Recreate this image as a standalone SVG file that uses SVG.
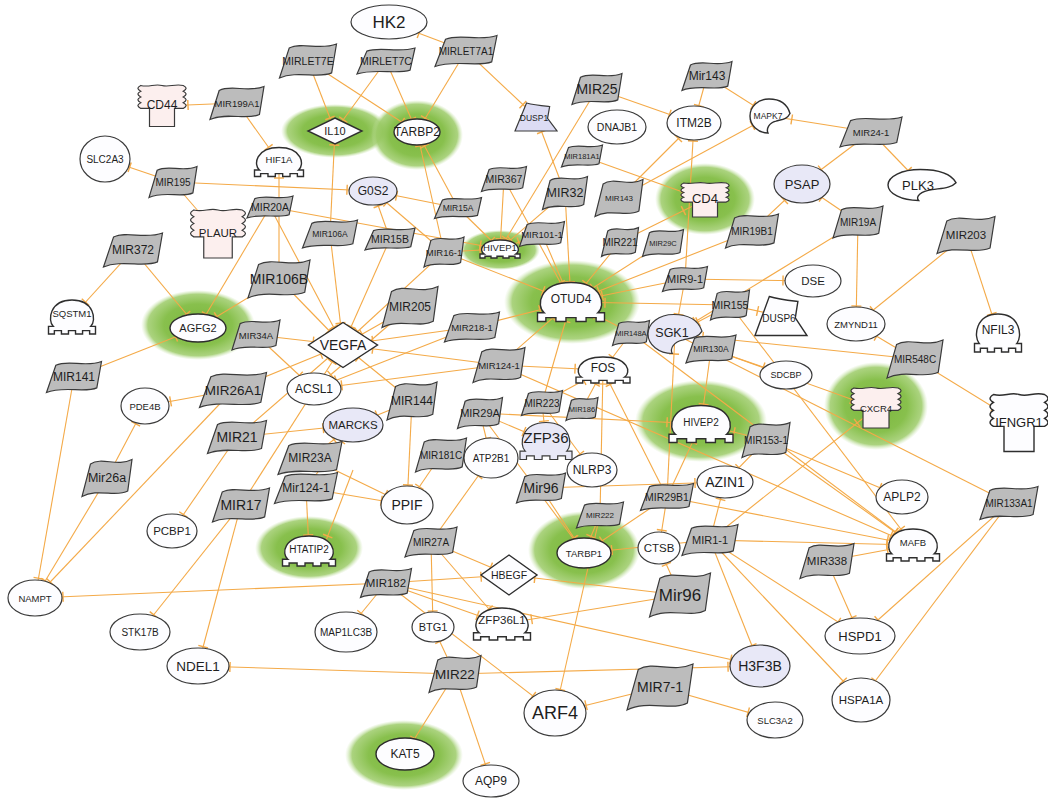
<svg xmlns="http://www.w3.org/2000/svg" xmlns:xlink="http://www.w3.org/1999/xlink" width="1048" height="799" viewBox="0 0 1048 799">
<defs>
<style>
.e line{stroke:#f4aa48;stroke-width:1.1;fill:none}
.m{fill:#bcbcbc;stroke:#3a3a3a;stroke-width:1.2}
.el{fill:#fdfdff;stroke:#3a3a3a;stroke-width:1.2}
.lv{fill:#e8e8f7;stroke:#3a3a3a;stroke-width:1.2}
.pk{fill:#fcefee;stroke:#3a3a3a;stroke-width:1.2}
.w{fill:#fdfdff;stroke:#2e2e2e;stroke-width:1.4}
.t{font-family:"Liberation Sans",Arial,sans-serif;text-anchor:middle;dominant-baseline:central;fill:#1e1e1e}
.h{fill:url(#halo)}
</style>
<radialGradient id="halo"><stop offset="0" stop-color="#7ab63c"/><stop offset="0.6" stop-color="#88c04d"/><stop offset="0.88" stop-color="#9ccb68" stop-opacity="0.85"/><stop offset="1" stop-color="#c4e2a4" stop-opacity="0"/></radialGradient>
<path id="flag" vector-effect="non-scaling-stroke" d="M-0.66,-0.76 C-0.2,-1.15 0.4,-0.6 1,-1 L0.83,0.7 C0.4,1.05 -0.4,0.55 -1,1 Z"/>
<path id="tf" vector-effect="non-scaling-stroke" d="M-0.8,0.55 C-1.05,0.2 -0.95,-1 0,-1 C0.95,-1 1.05,0.2 0.8,0.55 L1,0.55 L1,1 L0.75,1 L0.75,0.8 L0.45,0.8 L0.45,1 L0.15,1 L0.15,0.8 L-0.15,0.8 L-0.15,1 L-0.45,1 L-0.45,0.8 L-0.75,0.8 L-0.75,1 L-1,1 L-1,0.55 Z"/>
<path id="rec" vector-effect="non-scaling-stroke" d="M-0.85,-1 C-0.5,-0.9 -0.3,-1.1 0,-1 C0.3,-0.9 0.5,-1.1 0.85,-1 Q1.08,-0.86 0.85,-0.72 Q1.08,-0.58 0.85,-0.44 Q1.08,-0.3 0.85,-0.16 Q1.08,-0.02 0.85,0.12 L0.5,0.12 L0.5,1 L-0.5,1 L-0.5,0.12 L-0.85,0.12 Q-1.08,-0.02 -0.85,-0.16 Q-1.08,-0.3 -0.85,-0.44 Q-1.08,-0.58 -0.85,-0.72 Q-1.08,-0.86 -0.85,-1 Z"/>
<path id="kin" vector-effect="non-scaling-stroke" d="M1,-0.15 C0.85,-0.75 0.45,-1 -0.05,-1 C-0.6,-1 -1,-0.55 -1,0 C-1,0.55 -0.6,1 -0.1,1 C-0.2,0.75 -0.05,0.4 0.3,0.3 C0.6,0.2 0.85,0.2 1,-0.15 Z"/>
<path id="dia" vector-effect="non-scaling-stroke" d="M0,-1 L1,0 L0,1 L-1,0 Z"/>
<path id="phos" vector-effect="non-scaling-stroke" d="M-1,1 L-0.45,-1 C-0.1,-0.85 0.3,-0.8 0.65,-0.75 L0.55,0.1 L1,1 Z"/>
<marker id="t10" markerUnits="userSpaceOnUse" orient="auto" overflow="visible" markerWidth="1" markerHeight="1"><path d="M-10,-5V5" stroke="#f4aa48" stroke-width="1.4"/></marker>
<marker id="t12" markerUnits="userSpaceOnUse" orient="auto" overflow="visible" markerWidth="1" markerHeight="1"><path d="M-12,-5V5" stroke="#f4aa48" stroke-width="1.4"/></marker>
<marker id="t14" markerUnits="userSpaceOnUse" orient="auto" overflow="visible" markerWidth="1" markerHeight="1"><path d="M-14,-5V5" stroke="#f4aa48" stroke-width="1.4"/></marker>
<marker id="t16" markerUnits="userSpaceOnUse" orient="auto" overflow="visible" markerWidth="1" markerHeight="1"><path d="M-16,-5V5" stroke="#f4aa48" stroke-width="1.4"/></marker>
<marker id="t18" markerUnits="userSpaceOnUse" orient="auto" overflow="visible" markerWidth="1" markerHeight="1"><path d="M-18,-5V5" stroke="#f4aa48" stroke-width="1.4"/></marker>
<marker id="t20" markerUnits="userSpaceOnUse" orient="auto" overflow="visible" markerWidth="1" markerHeight="1"><path d="M-20,-5V5" stroke="#f4aa48" stroke-width="1.4"/></marker>
<marker id="t22" markerUnits="userSpaceOnUse" orient="auto" overflow="visible" markerWidth="1" markerHeight="1"><path d="M-22,-5V5" stroke="#f4aa48" stroke-width="1.4"/></marker>
<marker id="t24" markerUnits="userSpaceOnUse" orient="auto" overflow="visible" markerWidth="1" markerHeight="1"><path d="M-24,-5V5" stroke="#f4aa48" stroke-width="1.4"/></marker>
<marker id="t26" markerUnits="userSpaceOnUse" orient="auto" overflow="visible" markerWidth="1" markerHeight="1"><path d="M-26,-5V5" stroke="#f4aa48" stroke-width="1.4"/></marker>
<marker id="t28" markerUnits="userSpaceOnUse" orient="auto" overflow="visible" markerWidth="1" markerHeight="1"><path d="M-28,-5V5" stroke="#f4aa48" stroke-width="1.4"/></marker>
<marker id="t30" markerUnits="userSpaceOnUse" orient="auto" overflow="visible" markerWidth="1" markerHeight="1"><path d="M-30,-5V5" stroke="#f4aa48" stroke-width="1.4"/></marker>
<marker id="t32" markerUnits="userSpaceOnUse" orient="auto" overflow="visible" markerWidth="1" markerHeight="1"><path d="M-32,-5V5" stroke="#f4aa48" stroke-width="1.4"/></marker>
<marker id="t34" markerUnits="userSpaceOnUse" orient="auto" overflow="visible" markerWidth="1" markerHeight="1"><path d="M-34,-5V5" stroke="#f4aa48" stroke-width="1.4"/></marker>
</defs>
<rect width="1048" height="799" fill="#ffffff"/>
<g id="halos">
<ellipse class="h" cx="335" cy="131" rx="54" ry="27"/>
<ellipse class="h" cx="417" cy="135" rx="46" ry="35"/>
<ellipse class="h" cx="500" cy="250" rx="40" ry="20"/>
<ellipse class="h" cx="572" cy="302" rx="68" ry="42"/>
<ellipse class="h" cx="705" cy="199" rx="50" ry="36"/>
<ellipse class="h" cx="198" cy="325" rx="57" ry="35"/>
<ellipse class="h" cx="701" cy="421" rx="66" ry="41"/>
<ellipse class="h" cx="876" cy="406" rx="52" ry="44"/>
<ellipse class="h" cx="309" cy="548" rx="54" ry="32"/>
<ellipse class="h" cx="584" cy="550" rx="56" ry="39"/>
<ellipse class="h" cx="404" cy="755" rx="59" ry="35"/>
</g>
<g id="connectors" class="e">
<line x1="466" y1="51" x2="389" y2="22" marker-end="url(#t32)"/>
<line x1="466" y1="51" x2="536" y2="117" marker-end="url(#t18)"/>
<line x1="466" y1="51" x2="417" y2="132" marker-end="url(#t16)"/>
<line x1="308" y1="61" x2="335" y2="131" marker-end="url(#t14)"/>
<line x1="308" y1="61" x2="417" y2="132" marker-end="url(#t18)"/>
<line x1="386" y1="61" x2="335" y2="131" marker-end="url(#t14)"/>
<line x1="386" y1="61" x2="417" y2="132" marker-end="url(#t14)"/>
<line x1="237" y1="103" x2="162" y2="106" marker-end="url(#t26)"/>
<line x1="237" y1="103" x2="279" y2="162" marker-end="url(#t18)"/>
<line x1="173" y1="182" x2="105" y2="159" marker-end="url(#t26)"/>
<line x1="173" y1="182" x2="218" y2="234" marker-end="url(#t26)"/>
<line x1="173" y1="182" x2="373" y2="191" marker-end="url(#t26)"/>
<line x1="133" y1="250" x2="72" y2="317" marker-end="url(#t20)"/>
<line x1="133" y1="250" x2="198" y2="328" marker-end="url(#t18)"/>
<line x1="270" y1="207" x2="198" y2="328" marker-end="url(#t16)"/>
<line x1="279" y1="279" x2="198" y2="328" marker-end="url(#t22)"/>
<line x1="74" y1="377" x2="198" y2="328" marker-end="url(#t24)"/>
<line x1="330" y1="234" x2="335" y2="131" marker-end="url(#t14)"/>
<line x1="458" y1="208" x2="417" y2="132" marker-end="url(#t16)"/>
<line x1="444" y1="252" x2="417" y2="132" marker-end="url(#t14)"/>
<line x1="458" y1="208" x2="373" y2="191" marker-end="url(#t24)"/>
<line x1="444" y1="252" x2="373" y2="191" marker-end="url(#t18)"/>
<line x1="390" y1="239" x2="373" y2="191" marker-end="url(#t16)"/>
<line x1="270" y1="207" x2="500" y2="249" marker-end="url(#t20)"/>
<line x1="504" y1="179" x2="500" y2="249" marker-end="url(#t10)"/>
<line x1="458" y1="208" x2="500" y2="249" marker-end="url(#t12)"/>
<line x1="444" y1="252" x2="500" y2="249" marker-end="url(#t20)"/>
<line x1="597" y1="89" x2="694" y2="123" marker-end="url(#t26)"/>
<line x1="565" y1="193" x2="536" y2="117" marker-end="url(#t16)"/>
<line x1="707" y1="76" x2="694" y2="123" marker-end="url(#t18)"/>
<line x1="707" y1="76" x2="770" y2="116" marker-end="url(#t20)"/>
<line x1="871" y1="132" x2="770" y2="116" marker-end="url(#t22)"/>
<line x1="619" y1="198" x2="770" y2="116" marker-end="url(#t20)"/>
<line x1="619" y1="198" x2="694" y2="123" marker-end="url(#t22)"/>
<line x1="685" y1="279" x2="694" y2="123" marker-end="url(#t18)"/>
<line x1="582" y1="156" x2="705" y2="200" marker-end="url(#t24)"/>
<line x1="620" y1="242" x2="705" y2="200" marker-end="url(#t24)"/>
<line x1="752" y1="231" x2="802" y2="184" marker-end="url(#t24)"/>
<line x1="858" y1="222" x2="802" y2="184" marker-end="url(#t24)"/>
<line x1="871" y1="132" x2="802" y2="184" marker-end="url(#t24)"/>
<line x1="871" y1="132" x2="922" y2="185" marker-end="url(#t20)"/>
<line x1="858" y1="222" x2="856" y2="324" marker-end="url(#t18)"/>
<line x1="966" y1="235" x2="856" y2="324" marker-end="url(#t22)"/>
<line x1="966" y1="235" x2="998" y2="333" marker-end="url(#t20)"/>
<line x1="685" y1="279" x2="813" y2="281" marker-end="url(#t30)"/>
<line x1="915" y1="359" x2="675" y2="334" marker-end="url(#t28)"/>
<line x1="711" y1="349" x2="876" y2="408" marker-end="url(#t26)"/>
<line x1="710" y1="540" x2="876" y2="408" marker-end="url(#t24)"/>
<line x1="915" y1="359" x2="1019" y2="423" marker-end="url(#t30)"/>
<line x1="1009" y1="503" x2="675" y2="334" marker-end="url(#t26)"/>
<line x1="711" y1="349" x2="786" y2="375" marker-end="url(#t24)"/>
<line x1="766" y1="440" x2="913" y2="545" marker-end="url(#t22)"/>
<line x1="667" y1="497" x2="913" y2="545" marker-end="url(#t26)"/>
<line x1="710" y1="540" x2="913" y2="545" marker-end="url(#t26)"/>
<line x1="827" y1="561" x2="913" y2="545" marker-end="url(#t26)"/>
<line x1="766" y1="440" x2="902" y2="497" marker-end="url(#t24)"/>
<line x1="827" y1="561" x2="860" y2="636" marker-end="url(#t20)"/>
<line x1="1009" y1="503" x2="860" y2="636" marker-end="url(#t24)"/>
<line x1="710" y1="540" x2="860" y2="636" marker-end="url(#t26)"/>
<line x1="1009" y1="503" x2="861" y2="700" marker-end="url(#t24)"/>
<line x1="710" y1="540" x2="861" y2="700" marker-end="url(#t26)"/>
<line x1="710" y1="540" x2="760" y2="666" marker-end="url(#t22)"/>
<line x1="455" y1="674" x2="760" y2="666" marker-end="url(#t32)"/>
<line x1="386" y1="583" x2="760" y2="666" marker-end="url(#t30)"/>
<line x1="660" y1="687" x2="775" y2="720" marker-end="url(#t28)"/>
<line x1="660" y1="687" x2="555" y2="713" marker-end="url(#t32)"/>
<line x1="600" y1="515" x2="555" y2="713" marker-end="url(#t24)"/>
<line x1="386" y1="583" x2="555" y2="713" marker-end="url(#t28)"/>
<line x1="680" y1="595" x2="659" y2="548" marker-end="url(#t18)"/>
<line x1="680" y1="595" x2="502" y2="624" marker-end="url(#t30)"/>
<line x1="680" y1="595" x2="509" y2="575" marker-end="url(#t26)"/>
<line x1="386" y1="583" x2="35" y2="598" marker-end="url(#t28)"/>
<line x1="386" y1="583" x2="346" y2="632" marker-end="url(#t24)"/>
<line x1="431" y1="542" x2="433" y2="627" marker-end="url(#t16)"/>
<line x1="386" y1="583" x2="502" y2="624" marker-end="url(#t26)"/>
<line x1="386" y1="583" x2="509" y2="575" marker-end="url(#t28)"/>
<line x1="431" y1="542" x2="509" y2="575" marker-end="url(#t20)"/>
<line x1="455" y1="674" x2="405" y2="754" marker-end="url(#t18)"/>
<line x1="455" y1="674" x2="491" y2="781" marker-end="url(#t18)"/>
<line x1="455" y1="674" x2="198" y2="666" marker-end="url(#t32)"/>
<line x1="455" y1="674" x2="433" y2="627" marker-end="url(#t16)"/>
<line x1="74" y1="377" x2="35" y2="598" marker-end="url(#t20)"/>
<line x1="107" y1="478" x2="35" y2="598" marker-end="url(#t20)"/>
<line x1="233" y1="390" x2="35" y2="598" marker-end="url(#t22)"/>
<line x1="237" y1="437" x2="172" y2="531" marker-end="url(#t20)"/>
<line x1="241" y1="505" x2="140" y2="632" marker-end="url(#t22)"/>
<line x1="241" y1="505" x2="198" y2="666" marker-end="url(#t20)"/>
<line x1="107" y1="478" x2="145" y2="406" marker-end="url(#t20)"/>
<line x1="233" y1="390" x2="145" y2="406" marker-end="url(#t26)"/>
<line x1="306" y1="488" x2="309" y2="551" marker-end="url(#t16)"/>
<line x1="353" y1="470" x2="322" y2="551" marker-end="url(#t16)"/>
<line x1="256" y1="335" x2="343" y2="345" marker-end="url(#t30)"/>
<line x1="279" y1="279" x2="343" y2="345" marker-end="url(#t20)"/>
<line x1="410" y1="307" x2="343" y2="345" marker-end="url(#t22)"/>
<line x1="472" y1="327" x2="343" y2="345" marker-end="url(#t30)"/>
<line x1="499" y1="365" x2="343" y2="345" marker-end="url(#t30)"/>
<line x1="270" y1="207" x2="343" y2="345" marker-end="url(#t20)"/>
<line x1="330" y1="234" x2="343" y2="345" marker-end="url(#t22)"/>
<line x1="390" y1="239" x2="343" y2="345" marker-end="url(#t20)"/>
<line x1="444" y1="252" x2="343" y2="345" marker-end="url(#t20)"/>
<line x1="233" y1="390" x2="343" y2="345" marker-end="url(#t24)"/>
<line x1="542" y1="234" x2="571" y2="302" marker-end="url(#t20)"/>
<line x1="565" y1="193" x2="571" y2="302" marker-end="url(#t20)"/>
<line x1="504" y1="179" x2="571" y2="302" marker-end="url(#t22)"/>
<line x1="620" y1="242" x2="571" y2="302" marker-end="url(#t24)"/>
<line x1="663" y1="243" x2="571" y2="302" marker-end="url(#t26)"/>
<line x1="685" y1="279" x2="571" y2="302" marker-end="url(#t32)"/>
<line x1="444" y1="252" x2="571" y2="302" marker-end="url(#t30)"/>
<line x1="472" y1="327" x2="571" y2="302" marker-end="url(#t32)"/>
<line x1="631" y1="333" x2="571" y2="302" marker-end="url(#t28)"/>
<line x1="730" y1="305" x2="571" y2="302" marker-end="url(#t34)"/>
<line x1="752" y1="231" x2="571" y2="302" marker-end="url(#t30)"/>
<line x1="499" y1="365" x2="571" y2="302" marker-end="url(#t24)"/>
<line x1="542" y1="403" x2="571" y2="302" marker-end="url(#t20)"/>
<line x1="597" y1="89" x2="500" y2="249" marker-end="url(#t12)"/>
<line x1="685" y1="279" x2="675" y2="334" marker-end="url(#t20)"/>
<line x1="730" y1="305" x2="675" y2="334" marker-end="url(#t26)"/>
<line x1="858" y1="222" x2="675" y2="334" marker-end="url(#t24)"/>
<line x1="711" y1="349" x2="701" y2="424" marker-end="url(#t20)"/>
<line x1="667" y1="497" x2="675" y2="334" marker-end="url(#t20)"/>
<line x1="631" y1="333" x2="603" y2="370" marker-end="url(#t16)"/>
<line x1="499" y1="365" x2="603" y2="370" marker-end="url(#t28)"/>
<line x1="542" y1="403" x2="603" y2="370" marker-end="url(#t22)"/>
<line x1="582" y1="409" x2="603" y2="370" marker-end="url(#t16)"/>
<line x1="600" y1="515" x2="603" y2="370" marker-end="url(#t14)"/>
<line x1="667" y1="497" x2="603" y2="370" marker-end="url(#t16)"/>
<line x1="480" y1="413" x2="546" y2="441" marker-end="url(#t24)"/>
<line x1="542" y1="403" x2="546" y2="441" marker-end="url(#t20)"/>
<line x1="667" y1="497" x2="701" y2="424" marker-end="url(#t20)"/>
<line x1="766" y1="440" x2="701" y2="424" marker-end="url(#t34)"/>
<line x1="480" y1="413" x2="701" y2="424" marker-end="url(#t34)"/>
<line x1="710" y1="540" x2="725" y2="482" marker-end="url(#t18)"/>
<line x1="766" y1="440" x2="725" y2="482" marker-end="url(#t20)"/>
<line x1="667" y1="497" x2="584" y2="553" marker-end="url(#t22)"/>
<line x1="600" y1="515" x2="584" y2="553" marker-end="url(#t18)"/>
<line x1="541" y1="488" x2="584" y2="553" marker-end="url(#t18)"/>
<line x1="710" y1="540" x2="584" y2="553" marker-end="url(#t28)"/>
<line x1="480" y1="413" x2="584" y2="553" marker-end="url(#t18)"/>
<line x1="412" y1="401" x2="353" y2="425" marker-end="url(#t26)"/>
<line x1="310" y1="458" x2="353" y2="425" marker-end="url(#t24)"/>
<line x1="306" y1="488" x2="353" y2="425" marker-end="url(#t20)"/>
<line x1="237" y1="437" x2="353" y2="425" marker-end="url(#t30)"/>
<line x1="306" y1="488" x2="407" y2="505" marker-end="url(#t26)"/>
<line x1="441" y1="455" x2="407" y2="505" marker-end="url(#t22)"/>
<line x1="310" y1="458" x2="407" y2="505" marker-end="url(#t24)"/>
<line x1="412" y1="401" x2="407" y2="505" marker-end="url(#t20)"/>
<line x1="256" y1="335" x2="314" y2="389" marker-end="url(#t20)"/>
<line x1="410" y1="307" x2="314" y2="389" marker-end="url(#t22)"/>
<line x1="472" y1="327" x2="314" y2="389" marker-end="url(#t24)"/>
<line x1="499" y1="365" x2="314" y2="389" marker-end="url(#t28)"/>
<line x1="441" y1="455" x2="491" y2="458" marker-end="url(#t28)"/>
<line x1="480" y1="413" x2="491" y2="458" marker-end="url(#t20)"/>
<line x1="431" y1="542" x2="491" y2="458" marker-end="url(#t22)"/>
<line x1="431" y1="542" x2="502" y2="624" marker-end="url(#t20)"/>
<line x1="667" y1="497" x2="659" y2="548" marker-end="url(#t18)"/>
<line x1="279" y1="279" x2="279" y2="162" marker-end="url(#t16)"/>
<line x1="241" y1="505" x2="343" y2="345" marker-end="url(#t20)"/>
<line x1="237" y1="437" x2="343" y2="345" marker-end="url(#t20)"/>
<line x1="412" y1="401" x2="343" y2="345" marker-end="url(#t20)"/>
<line x1="542" y1="234" x2="500" y2="249" marker-end="url(#t20)"/>
<line x1="565" y1="193" x2="500" y2="249" marker-end="url(#t14)"/>
<line x1="915" y1="359" x2="856" y2="324" marker-end="url(#t24)"/>
<line x1="542" y1="403" x2="592" y2="470" marker-end="url(#t20)"/>
<line x1="541" y1="488" x2="725" y2="482" marker-end="url(#t30)"/>
<line x1="631" y1="333" x2="913" y2="545" marker-end="url(#t22)"/>
<line x1="499" y1="365" x2="913" y2="545" marker-end="url(#t24)"/>
<line x1="730" y1="305" x2="913" y2="545" marker-end="url(#t20)"/>
<line x1="730" y1="305" x2="781" y2="316" marker-end="url(#t24)"/>
</g>
<g id="nodes">
<g id="n-HK2"><ellipse class="el" cx="389" cy="22" rx="38" ry="17"/><text class="t" x="389" y="22" font-size="17">HK2</text></g>
<g id="n-MIRLET7E"><use href="#flag" class="m" transform="translate(308,61) scale(28.5,17)"/><text class="t" x="308" y="61" font-size="10.5">MIRLET7E</text></g>
<g id="n-MIRLET7C"><use href="#flag" class="m" transform="translate(386,61) scale(29,13)"/><text class="t" x="386" y="61" font-size="10.5">MIRLET7C</text></g>
<g id="n-MIRLET7A1"><use href="#flag" class="m" transform="translate(466,51) scale(31,15.5)"/><text class="t" x="466" y="51" font-size="10">MIRLET7A1</text></g>
<g id="n-IL10"><use href="#dia" class="w" transform="translate(335,131) scale(27,13)"/><text class="t" x="335" y="131" font-size="11">IL10</text></g>
<g id="n-TARBP2"><ellipse class="w" cx="417" cy="132" rx="23" ry="13"/><text class="t" x="417" y="132" font-size="12">TARBP2</text></g>
<g id="n-DUSP1"><use href="#phos" fill="#dcdcf3" stroke="#3a3a3a" stroke-width="1.2" transform="translate(536,117) scale(21,14)"/><text class="t" x="534" y="118" font-size="8.5">DUSP1</text></g>
<g id="n-CD44"><use href="#rec" class="pk" transform="translate(162,106) scale(25,20.5)"/><text class="t" x="162" y="105" font-size="12">CD44</text></g>
<g id="n-MIR199A1"><use href="#flag" class="m" transform="translate(237,103) scale(27,16.5)"/><text class="t" x="237" y="103" font-size="9.5">MIR199A1</text></g>
<g id="n-SLC2A3"><ellipse class="el" cx="105" cy="159" rx="25" ry="23" fill="#f6f6fc"/><text class="t" x="105" y="159" font-size="10">SLC2A3</text></g>
<g id="n-HIF1A"><use href="#tf" class="w" transform="translate(279,162) scale(24.5,14.5)"/><text class="t" x="279" y="159" font-size="9.5">HIF1A</text></g>
<g id="n-MIR195"><use href="#flag" class="m" transform="translate(173,182) scale(24,15.5)"/><text class="t" x="173" y="182" font-size="10">MIR195</text></g>
<g id="n-G0S2"><ellipse class="lv" cx="373" cy="191" rx="24" ry="14"/><text class="t" x="373" y="191" font-size="12">G0S2</text></g>
<g id="n-PLAUR"><use href="#rec" class="pk" transform="translate(218,234) scale(28.5,24)"/><text class="t" x="218" y="233" font-size="11.5">PLAUR</text></g>
<g id="n-MIR20A"><use href="#flag" class="m" transform="translate(270,207) scale(23,11)"/><text class="t" x="270" y="207" font-size="10.5">MIR20A</text></g>
<g id="n-MIR372"><use href="#flag" class="m" transform="translate(133,250) scale(29.5,17)"/><text class="t" x="133" y="250" font-size="12">MIR372</text></g>
<g id="n-MIR15A"><use href="#flag" class="m" transform="translate(458,208) scale(23.5,10.5)"/><text class="t" x="458" y="208" font-size="8.5">MIR15A</text></g>
<g id="n-MIR367"><use href="#flag" class="m" transform="translate(504,179) scale(22.5,12.5)"/><text class="t" x="504" y="179" font-size="10.5">MIR367</text></g>
<g id="n-MIR106A"><use href="#flag" class="m" transform="translate(330,234) scale(27.5,14)"/><text class="t" x="330" y="234" font-size="8.5">MIR106A</text></g>
<g id="n-MIR15B"><use href="#flag" class="m" transform="translate(390,239) scale(25,11)"/><text class="t" x="390" y="239" font-size="10.5">MIR15B</text></g>
<g id="n-MIR16-1"><use href="#flag" class="m" transform="translate(444,252) scale(20,15)"/><text class="t" x="444" y="252" font-size="9.5">MIR16-1</text></g>
<g id="n-HIVEP1"><use href="#tf" class="w" transform="translate(500,249) scale(20,9)"/><text class="t" x="500" y="247" font-size="9.5">HIVEP1</text></g>
<g id="n-MIR106B"><use href="#flag" class="m" transform="translate(279,279) scale(31,19)"/><text class="t" x="279" y="279" font-size="14">MIR106B</text></g>
<g id="n-SQSTM1"><use href="#tf" class="w" transform="translate(72,317) scale(23.5,17)"/><text class="t" x="72" y="313" font-size="9.5">SQSTM1</text></g>
<g id="n-AGFG2"><ellipse class="w" cx="198" cy="328" rx="28" ry="14"/><text class="t" x="198" y="328" font-size="11">AGFG2</text></g>
<g id="n-MIR34A"><use href="#flag" class="m" transform="translate(256,335) scale(24,15)"/><text class="t" x="256" y="335" font-size="9.5">MIR34A</text></g>
<g id="n-MIR141"><use href="#flag" class="m" transform="translate(74,377) scale(27.5,15.5)"/><text class="t" x="74" y="377" font-size="12">MIR141</text></g>
<g id="n-PDE4B"><ellipse class="el" cx="145" cy="406" rx="24" ry="18"/><text class="t" x="145" y="406" font-size="9.5">PDE4B</text></g>
<g id="n-MIR26A1"><use href="#flag" class="m" transform="translate(233,390) scale(33.5,17.5)"/><text class="t" x="233" y="390" font-size="13.5">MIR26A1</text></g>
<g id="n-MIR21"><use href="#flag" class="m" transform="translate(237,437) scale(29.5,16.5)"/><text class="t" x="237" y="437" font-size="14">MIR21</text></g>
<g id="n-Mir26a"><use href="#flag" class="m" transform="translate(107,478) scale(25,18.5)"/><text class="t" x="107" y="478" font-size="12.5">Mir26a</text></g>
<g id="n-MIR17"><use href="#flag" class="m" transform="translate(241,505) scale(28.5,17)"/><text class="t" x="241" y="505" font-size="14">MIR17</text></g>
<g id="n-PCBP1"><ellipse class="el" cx="172" cy="531" rx="25" ry="17" fill="#f2f2fa"/><text class="t" x="172" y="531" font-size="11.5">PCBP1</text></g>
<g id="n-MIR205"><use href="#flag" class="m" transform="translate(410,307) scale(28,20.5)"/><text class="t" x="410" y="307" font-size="12">MIR205</text></g>
<g id="n-VEGFA"><use href="#dia" class="w" transform="translate(343,345) scale(34.5,22.5)"/><text class="t" x="343" y="345" font-size="14">VEGFA</text></g>
<g id="n-MIR218-1"><use href="#flag" class="m" transform="translate(472,327) scale(27.5,15)"/><text class="t" x="472" y="327" font-size="9.5">MIR218-1</text></g>
<g id="n-ACSL1"><ellipse class="el" cx="314" cy="389" rx="27" ry="16"/><text class="t" x="314" y="389" font-size="12">ACSL1</text></g>
<g id="n-MIR124-1"><use href="#flag" class="m" transform="translate(499,365) scale(26,17.5)"/><text class="t" x="499" y="365" font-size="9.5">MIR124-1</text></g>
<g id="n-MIR144"><use href="#flag" class="m" transform="translate(412,401) scale(25,19)"/><text class="t" x="412" y="401" font-size="12">MIR144</text></g>
<g id="n-MIR29A"><use href="#flag" class="m" transform="translate(480,413) scale(22.5,15.5)"/><text class="t" x="480" y="413" font-size="11">MIR29A</text></g>
<g id="n-MARCKS"><ellipse class="lv" cx="353" cy="425" rx="30" ry="17"/><text class="t" x="353" y="425" font-size="11.5">MARCKS</text></g>
<g id="n-MIR23A"><use href="#flag" class="m" transform="translate(310,458) scale(32,16.5)"/><text class="t" x="310" y="458" font-size="12">MIR23A</text></g>
<g id="n-MIR181C"><use href="#flag" class="m" transform="translate(441,455) scale(25.5,17)"/><text class="t" x="441" y="455" font-size="10">MIR181C</text></g>
<g id="n-ATP2B1"><ellipse class="el" cx="491" cy="458" rx="27" ry="20"/><text class="t" x="491" y="458" font-size="10">ATP2B1</text></g>
<g id="n-Mir124-1"><use href="#flag" class="m" transform="translate(306,488) scale(31.5,15.5)"/><text class="t" x="306" y="488" font-size="12">Mir124-1</text></g>
<g id="n-PPIF"><ellipse class="el" cx="407" cy="505" rx="26" ry="19"/><text class="t" x="407" y="505" font-size="14">PPIF</text></g>
<g id="n-MIR25"><use href="#flag" class="m" transform="translate(597,89) scale(25,15.5)"/><text class="t" x="597" y="89" font-size="14">MIR25</text></g>
<g id="n-Mir143"><use href="#flag" class="m" transform="translate(707,76) scale(25,14.5)"/><text class="t" x="707" y="76" font-size="12">Mir143</text></g>
<g id="n-DNAJB1"><ellipse class="el" cx="617" cy="127" rx="29" ry="17" fill="#fcf5f5"/><text class="t" x="617" y="127" font-size="10.5">DNAJB1</text></g>
<g id="n-ITM2B"><ellipse class="el" cx="694" cy="123" rx="27" ry="17" fill="#fbeded"/><text class="t" x="694" y="123" font-size="12">ITM2B</text></g>
<g id="n-MAPK7"><use href="#kin" class="w" transform="translate(770,116) scale(20,17)"/><text class="t" x="768" y="116" font-size="8.5">MAPK7</text></g>
<g id="n-MIR181A1"><use href="#flag" class="m" transform="translate(582,156) scale(20.5,11)"/><text class="t" x="582" y="156" font-size="7.5">MIR181A1</text></g>
<g id="n-MIR32"><use href="#flag" class="m" transform="translate(565,193) scale(22.5,16.5)"/><text class="t" x="565" y="193" font-size="12.5">MIR32</text></g>
<g id="n-MIR143"><use href="#flag" class="m" transform="translate(619,198) scale(24,18.5)"/><text class="t" x="619" y="198" font-size="8">MIR143</text></g>
<g id="n-CD4"><use href="#rec" class="pk" transform="translate(705,200) scale(25,17)"/><text class="t" x="705" y="198" font-size="13">CD4</text></g>
<g id="n-MIR101-1"><use href="#flag" class="m" transform="translate(542,234) scale(22.5,12.5)"/><text class="t" x="542" y="234" font-size="9.5">MIR101-1</text></g>
<g id="n-MIR221"><use href="#flag" class="m" transform="translate(620,242) scale(18.5,14.5)"/><text class="t" x="620" y="242" font-size="10">MIR221</text></g>
<g id="n-MIR29C"><use href="#flag" class="m" transform="translate(663,243) scale(20.5,13.5)"/><text class="t" x="663" y="243" font-size="7.5">MIR29C</text></g>
<g id="n-MIR19B1"><use href="#flag" class="m" transform="translate(752,231) scale(26.5,17)"/><text class="t" x="752" y="231" font-size="10">MIR19B1</text></g>
<g id="n-PSAP"><ellipse class="lv" cx="802" cy="184" rx="28" ry="19"/><text class="t" x="802" y="184" font-size="13">PSAP</text></g>
<g id="n-MIR24-1"><use href="#flag" class="m" transform="translate(871,132) scale(31,15)"/><text class="t" x="871" y="132" font-size="9.5">MIR24-1</text></g>
<g id="n-PLK3"><use href="#kin" class="w" transform="translate(922,185) scale(34,15.5)"/><text class="t" x="918" y="185" font-size="13">PLK3</text></g>
<g id="n-MIR19A"><use href="#flag" class="m" transform="translate(858,222) scale(25,16)"/><text class="t" x="858" y="222" font-size="10">MIR19A</text></g>
<g id="n-MIR203"><use href="#flag" class="m" transform="translate(966,235) scale(29,18.5)"/><text class="t" x="966" y="235" font-size="11.5">MIR203</text></g>
<g id="n-OTUD4"><use href="#tf" class="w" transform="translate(571,302) scale(33.5,19.5)"/><text class="t" x="571" y="299" font-size="12">OTUD4</text></g>
<g id="n-MIR9-1"><use href="#flag" class="m" transform="translate(685,279) scale(22.5,12.5)"/><text class="t" x="685" y="279" font-size="11">MIR9-1</text></g>
<g id="n-DSE"><ellipse class="el" cx="813" cy="281" rx="28" ry="16"/><text class="t" x="813" y="281" font-size="11.5">DSE</text></g>
<g id="n-MIR155"><use href="#flag" class="m" transform="translate(730,305) scale(19.5,15)"/><text class="t" x="730" y="305" font-size="10.5">MIR155</text></g>
<g id="n-DUSP6"><use href="#phos" class="w" transform="translate(781,316) scale(26,19.5)"/><text class="t" x="779" y="318" font-size="10">DUSP6</text></g>
<g id="n-ZMYND11"><ellipse class="el" cx="856" cy="324" rx="29" ry="17"/><text class="t" x="856" y="324" font-size="9.5">ZMYND11</text></g>
<g id="n-NFIL3"><use href="#tf" class="w" transform="translate(998,333) scale(23.5,19)"/><text class="t" x="998" y="330" font-size="12">NFIL3</text></g>
<g id="n-MIR148A"><use href="#flag" class="m" transform="translate(631,333) scale(18.5,12.5)"/><text class="t" x="631" y="333" font-size="7.5">MIR148A</text></g>
<g id="n-SGK1"><use href="#kin" class="lv" transform="translate(675,334) scale(27,19.5)"/><text class="t" x="672" y="333" font-size="12.5">SGK1</text></g>
<g id="n-MIR130A"><use href="#flag" class="m" transform="translate(711,349) scale(25,14)"/><text class="t" x="711" y="349" font-size="8.5">MIR130A</text></g>
<g id="n-MIR548C"><use href="#flag" class="m" transform="translate(915,359) scale(28,19)"/><text class="t" x="915" y="359" font-size="10">MIR548C</text></g>
<g id="n-FOS"><use href="#tf" class="w" transform="translate(603,370) scale(27,13)"/><text class="t" x="603" y="368" font-size="12">FOS</text></g>
<g id="n-SDCBP"><ellipse class="el" cx="786" cy="375" rx="26" ry="14"/><text class="t" x="786" y="375" font-size="9">SDCBP</text></g>
<g id="n-MIR223"><use href="#flag" class="m" transform="translate(542,403) scale(20.5,12.5)"/><text class="t" x="542" y="403" font-size="10">MIR223</text></g>
<g id="n-MIR186"><use href="#flag" class="m" transform="translate(582,409) scale(16,11.5)"/><text class="t" x="582" y="409" font-size="7.5">MIR186</text></g>
<g id="n-CXCR4"><use href="#rec" class="pk" fill="#fde8e5" transform="translate(876,408) scale(26,20)"/><text class="t" x="876" y="408" font-size="9.5">CXCR4</text></g>
<g id="n-IFNGR1"><use href="#rec" class="w" transform="translate(1019,423) scale(30,28.5)"/><text class="t" x="1019" y="422" font-size="13">IFNGR1</text></g>
<g id="n-HIVEP2"><use href="#tf" class="w" transform="translate(701,424) scale(32,18.5)"/><text class="t" x="701" y="422" font-size="10">HIVEP2</text></g>
<g id="n-ZFP36"><use href="#tf" class="lv" transform="translate(546,441) scale(26,18.5)"/><text class="t" x="546" y="437" font-size="15">ZFP36</text></g>
<g id="n-MIR153-1"><use href="#flag" class="m" transform="translate(766,440) scale(24,17.5)"/><text class="t" x="766" y="440" font-size="10">MIR153-1</text></g>
<g id="n-NLRP3"><ellipse class="el" cx="592" cy="470" rx="25" ry="17"/><text class="t" x="592" y="470" font-size="12">NLRP3</text></g>
<g id="n-Mir96-a"><use href="#flag" class="m" transform="translate(541,488) scale(24.5,15)"/><text class="t" x="541" y="488" font-size="14">Mir96</text></g>
<g id="n-AZIN1"><ellipse class="el" cx="725" cy="482" rx="28" ry="16"/><text class="t" x="725" y="482" font-size="14">AZIN1</text></g>
<g id="n-APLP2"><ellipse class="el" cx="902" cy="497" rx="26" ry="17"/><text class="t" x="902" y="497" font-size="12">APLP2</text></g>
<g id="n-MIR133A1"><use href="#flag" class="m" transform="translate(1009,503) scale(29,16.5)"/><text class="t" x="1009" y="503" font-size="10">MIR133A1</text></g>
<g id="n-MIR29B1"><use href="#flag" class="m" transform="translate(667,497) scale(26.5,13.5)"/><text class="t" x="667" y="497" font-size="10.5">MIR29B1</text></g>
<g id="n-MIR222"><use href="#flag" class="m" transform="translate(600,515) scale(23.5,13)"/><text class="t" x="600" y="515" font-size="8">MIR222</text></g>
<g id="n-MIR1-1"><use href="#flag" class="m" transform="translate(710,540) scale(28,15.5)"/><text class="t" x="710" y="540" font-size="11">MIR1-1</text></g>
<g id="n-MAFB"><use href="#tf" class="w" transform="translate(913,545) scale(26.5,16)"/><text class="t" x="913" y="542" font-size="9.5">MAFB</text></g>
<g id="n-MIR338"><use href="#flag" class="m" transform="translate(827,561) scale(27,17.5)"/><text class="t" x="827" y="561" font-size="11.5">MIR338</text></g>
<g id="n-TARBP1"><ellipse class="w" cx="584" cy="553" rx="27" ry="15"/><text class="t" x="584" y="553" font-size="9.5">TARBP1</text></g>
<g id="n-CTSB"><ellipse class="el" cx="659" cy="548" rx="21" ry="16"/><text class="t" x="659" y="548" font-size="11.5">CTSB</text></g>
<g id="n-HTATIP2"><use href="#tf" class="w" transform="translate(309,551) scale(26.5,15)"/><text class="t" x="309" y="549" font-size="10">HTATIP2</text></g>
<g id="n-MIR27A"><use href="#flag" class="m" transform="translate(431,542) scale(26,15)"/><text class="t" x="431" y="542" font-size="10">MIR27A</text></g>
<g id="n-HBEGF"><use href="#dia" class="w" transform="translate(509,575) scale(28,20)"/><text class="t" x="509" y="575" font-size="10.5">HBEGF</text></g>
<g id="n-MIR182"><use href="#flag" class="m" transform="translate(386,583) scale(25.5,14.5)"/><text class="t" x="386" y="583" font-size="11.5">MIR182</text></g>
<g id="n-NAMPT"><ellipse class="el" cx="35" cy="598" rx="27" ry="18"/><text class="t" x="35" y="598" font-size="9.5">NAMPT</text></g>
<g id="n-Mir96-b"><use href="#flag" class="m" transform="translate(680,595) scale(30.5,22)"/><text class="t" x="680" y="595" font-size="17">Mir96</text></g>
<g id="n-STK17B"><ellipse class="el" cx="140" cy="632" rx="30" ry="18" fill="#f3f3fa"/><text class="t" x="140" y="632" font-size="10">STK17B</text></g>
<g id="n-MAP1LC3B"><ellipse class="el" cx="346" cy="632" rx="31" ry="20"/><text class="t" x="346" y="632" font-size="10">MAP1LC3B</text></g>
<g id="n-BTG1"><ellipse class="el" cx="433" cy="627" rx="21" ry="15"/><text class="t" x="433" y="627" font-size="11">BTG1</text></g>
<g id="n-ZFP36L1"><use href="#tf" class="w" transform="translate(502,624) scale(28.5,16)"/><text class="t" x="502" y="620" font-size="11.5">ZFP36L1</text></g>
<g id="n-HSPD1"><ellipse class="el" cx="860" cy="636" rx="35" ry="18"/><text class="t" x="860" y="636" font-size="13">HSPD1</text></g>
<g id="n-NDEL1"><ellipse class="el" cx="198" cy="666" rx="31" ry="18"/><text class="t" x="198" y="666" font-size="13.5">NDEL1</text></g>
<g id="n-MIR22"><use href="#flag" class="m" transform="translate(455,674) scale(26,18.5)"/><text class="t" x="455" y="674" font-size="13.5">MIR22</text></g>
<g id="n-H3F3B"><ellipse class="lv" cx="760" cy="666" rx="30" ry="21"/><text class="t" x="760" y="666" font-size="14">H3F3B</text></g>
<g id="n-MIR7-1"><use href="#flag" class="m" transform="translate(660,687) scale(33,23)"/><text class="t" x="660" y="687" font-size="14">MIR7-1</text></g>
<g id="n-HSPA1A"><ellipse class="el" cx="861" cy="700" rx="29" ry="22"/><text class="t" x="861" y="700" font-size="11.5">HSPA1A</text></g>
<g id="n-ARF4"><ellipse class="el" cx="555" cy="713" rx="31" ry="23"/><text class="t" x="555" y="713" font-size="18">ARF4</text></g>
<g id="n-SLC3A2"><ellipse class="el" cx="775" cy="720" rx="28" ry="18"/><text class="t" x="775" y="720" font-size="9.5">SLC3A2</text></g>
<g id="n-KAT5"><ellipse class="w" cx="405" cy="754" rx="29" ry="16"/><text class="t" x="405" y="754" font-size="12">KAT5</text></g>
<g id="n-AQP9"><ellipse class="el" cx="491" cy="781" rx="28" ry="16"/><text class="t" x="491" y="781" font-size="12">AQP9</text></g>
</g>
</svg>
